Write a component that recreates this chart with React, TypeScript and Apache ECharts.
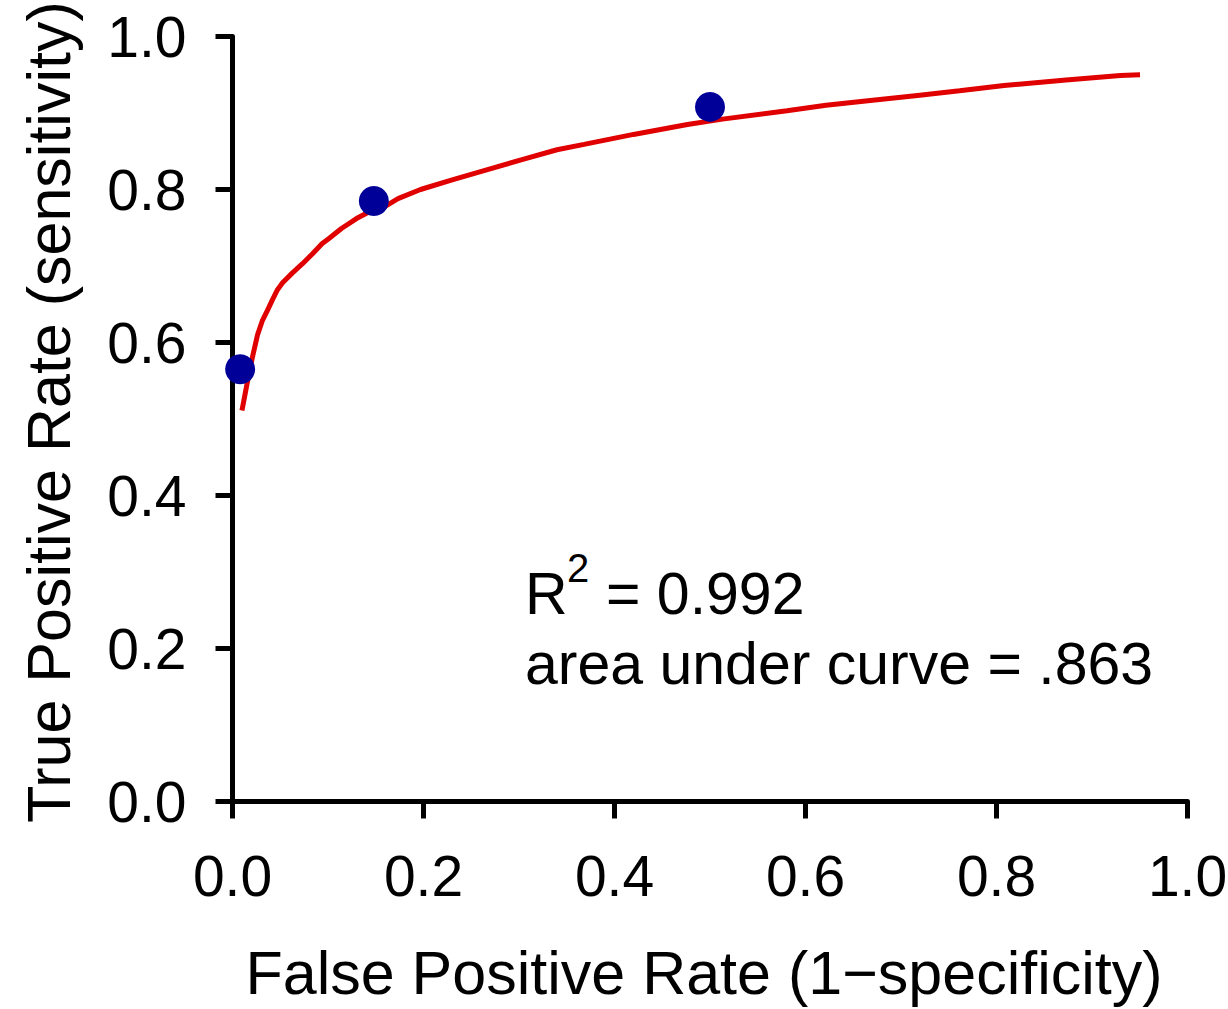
import React, { useEffect, useRef } from "react";
import * as echarts from "echarts";

const observedFpr = [0.008, 0.148, 0.5];
const observedTpr = [0.565, 0.785, 0.908];

const curveFpr = [
  0.0099, 0.0157, 0.0209, 0.0262, 0.0314, 0.0366, 0.0419, 0.0471, 0.0524, 0.0628,
  0.0733, 0.0838, 0.0937, 0.101, 0.1141, 0.1298, 0.1403, 0.156, 0.1733, 0.1969,
  0.2309, 0.267, 0.3031, 0.3398, 0.3681, 0.4199, 0.4764, 0.5131, 0.5806, 0.6215,
  0.6654, 0.7173, 0.7613, 0.8079, 0.8728, 0.9298, 0.9503,
];
const curveTpr = [
  0.511, 0.549, 0.581, 0.61, 0.629, 0.642, 0.656, 0.669, 0.678, 0.691,
  0.703, 0.716, 0.729, 0.736, 0.749, 0.762, 0.769, 0.775, 0.788, 0.8,
  0.813, 0.826, 0.839, 0.852, 0.859, 0.872, 0.885, 0.892, 0.903, 0.91,
  0.916, 0.923, 0.929, 0.936, 0.943, 0.949, 0.95,
];

const xName = "False Positive Rate (1\u2212specificity)";
const yName = "True Positive Rate (sensitivity)";
const rLabel = "R";
const rSup = "2";
const rValue = "= 0.992";
const aucText = "area under curve = .863";

const FONT = "'Liberation Sans', Arial, Helvetica, sans-serif";

export default function App() {
  const ref = useRef<HTMLDivElement>(null);
  useEffect(() => {
    if (!ref.current) return;
    const chart = echarts.init(ref.current, undefined, { renderer: "svg" });
    const axisCommon = {
      type: "value",
      min: 0,
      max: 1,
      interval: 0.2,
      splitLine: { show: false },
      axisLine: { show: true, onZero: false, lineStyle: { color: "#000", width: 5 } },
      axisTick: { show: true, length: 17, lineStyle: { color: "#000", width: 5 } },
    };
    chart.setOption({
      animation: false,
      backgroundColor: "#fff",
      grid: {
        left: 232.5,
        right: 40.5,
        top: 36.5,
        bottom: 207.5,
        containLabel: false,
        outerBoundsMode: "none",
      },
      xAxis: {
        ...axisCommon,
        name: xName,
        nameLocation: "middle",
        nameGap: 141,
        nameTextStyle: { fontFamily: FONT, fontSize: 61, color: "#000", padding: [0, 12, 0, 0] },
        axisLabel: {
          margin: 46,
          fontFamily: FONT,
          fontSize: 57,
          color: "#000",
          formatter: (v: number) => v.toFixed(1),
        },
      },
      yAxis: {
        ...axisCommon,
        name: yName,
        nameLocation: "middle",
        nameGap: 153,
        nameTextStyle: { fontFamily: FONT, fontSize: 61, color: "#000", padding: [0, 0, 0, 14] },
        axisLabel: {
          margin: 46,
          fontFamily: FONT,
          fontSize: 57,
          color: "#000",
          padding: [0, 0, 8, 0],
          formatter: (v: number) => v.toFixed(1),
        },
      },
      series: [
        {
          type: "line",
          data: curveFpr.map((x, i) => [x, curveTpr[i]]),
          showSymbol: false,
          smooth: false,
          lineStyle: { color: "#E00000", width: 5 },
          z: 2,
        },
        {
          type: "scatter",
          data: observedFpr.map((x, i) => [x, observedTpr[i]]),
          symbol: "circle",
          symbolSize: 30,
          itemStyle: { color: "#000099", opacity: 1 },
          z: 3,
        },
      ],
      graphic: [
        {
          type: "text",
          left: 525,
          top: 564,
          style: { text: rLabel, fontFamily: FONT, fontSize: 59, fill: "#000" },
        },
        {
          type: "text",
          left: 567,
          top: 548,
          style: { text: rSup, fontFamily: FONT, fontSize: 40, fill: "#000" },
        },
        {
          type: "text",
          left: 606,
          top: 564,
          style: { text: rValue, fontFamily: FONT, fontSize: 59, fill: "#000" },
        },
        {
          type: "text",
          left: 525,
          top: 634,
          style: { text: aucText, fontFamily: FONT, fontSize: 59, fill: "#000" },
        },
      ],
    });
    return () => chart.dispose();
  }, []);
  return (
    <div
      ref={ref}
      style={{ position: "fixed", left: 0, top: 0, width: 1228, height: 1009, background: "#fff" }}
    />
  );
}
